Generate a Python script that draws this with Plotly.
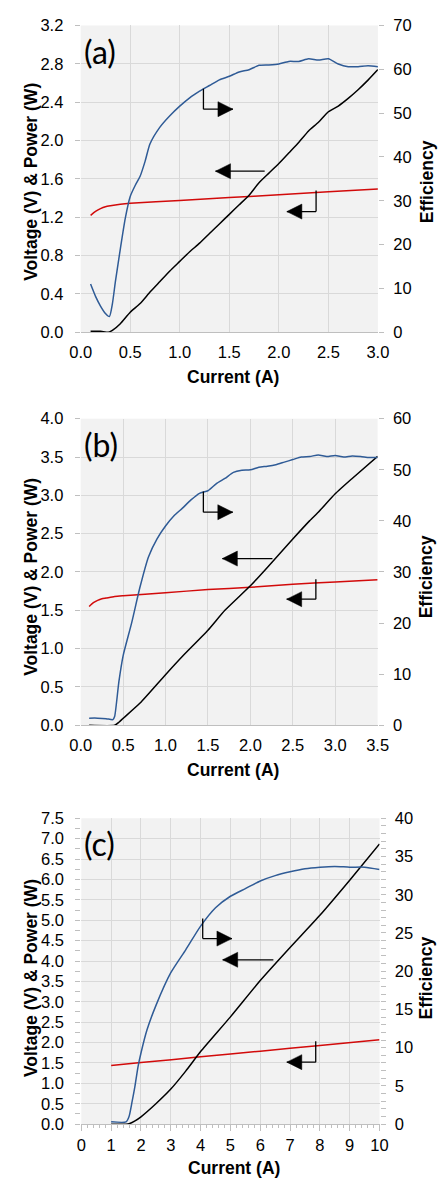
import plotly.graph_objects as go

# ---------------- data ----------------
# Panel (a)
a_v_current = [0.1, 0.15, 0.2, 0.25, 0.3, 0.4, 0.5, 1.0, 1.5, 2.0, 2.5, 3.0]
a_voltage = [1.22, 1.26, 1.29, 1.31, 1.32, 1.335, 1.345, 1.375, 1.405, 1.435, 1.465, 1.495]

a_p_current = [0.1, 0.2, 0.28, 0.32, 0.4, 0.5, 0.6, 0.7, 0.8, 0.9, 1.0, 1.1, 1.2, 1.3, 1.4, 1.5,
               1.6, 1.7, 1.8, 1.9, 2.0, 2.1, 2.2, 2.3, 2.4, 2.5, 2.6, 2.7, 2.8, 2.9, 3.0]
a_power = [0.01, 0.01, 0.0, 0.02, 0.09, 0.21, 0.30, 0.42, 0.53, 0.64, 0.74, 0.84, 0.93, 1.03, 1.13, 1.23,
           1.33, 1.43, 1.56, 1.66, 1.76, 1.87, 1.98, 2.10, 2.19, 2.30, 2.36, 2.44, 2.53, 2.63, 2.74]

a_e_current = [0.1, 0.15, 0.2, 0.25, 0.29, 0.32, 0.35, 0.4, 0.45, 0.5, 0.55, 0.6, 0.65, 0.7, 0.8, 0.9,
               1.0, 1.1, 1.2, 1.3, 1.4, 1.5, 1.6, 1.7, 1.8, 1.9, 2.0, 2.1, 2.2, 2.3, 2.4, 2.5,
               2.6, 2.7, 2.8, 2.9, 3.0]
a_eff = [11.0, 8.2, 6.0, 4.3, 3.6, 6.5, 11.5, 19.0, 26.0, 31.0, 33.5, 35.6, 39.0, 43.0, 46.8, 49.4,
         51.6, 53.5, 55.0, 56.3, 57.6, 58.4, 59.4, 59.9, 60.9, 61.0, 61.2, 61.8, 61.8, 62.4, 62.1, 62.4,
         61.2, 60.6, 60.6, 60.8, 60.6]

# Panel (b)
b_v_current = [0.1, 0.15, 0.2, 0.25, 0.3, 0.4, 0.5, 1.0, 1.5, 2.0, 2.5, 3.0, 3.5]
b_voltage = [1.55, 1.60, 1.63, 1.65, 1.66, 1.68, 1.69, 1.73, 1.77, 1.80, 1.84, 1.87, 1.90]

b_p_current = [0.1, 0.4, 0.45, 0.5, 0.7, 1.0, 1.2, 1.5, 1.7, 2.0, 2.2, 2.5, 2.7, 2.8, 3.0, 3.2, 3.5]
b_power = [0.0, 0.0, 0.04, 0.09, 0.29, 0.66, 0.90, 1.24, 1.50, 1.82, 2.06, 2.43, 2.67, 2.78, 3.02, 3.22, 3.51]

b_e_current = [0.1, 0.2, 0.3, 0.38, 0.4, 0.45, 0.5, 0.6, 0.7, 0.8, 0.9, 1.0, 1.1, 1.2, 1.3, 1.4, 1.5,
               1.6, 1.7, 1.8, 1.9, 2.0, 2.1, 2.2, 2.3, 2.4, 2.5, 2.6, 2.7, 2.8, 2.9, 3.0, 3.1, 3.2,
               3.3, 3.4, 3.5]
b_eff = [1.4, 1.4, 1.3, 1.1, 1.7, 8.5, 13.6, 20.0, 27.1, 33.0, 36.5, 39.0, 41.0, 42.5, 44.1, 45.4, 45.9,
         47.3, 48.3, 49.5, 49.9, 50.0, 50.5, 50.7, 51.0, 51.5, 52.0, 52.5, 52.6, 52.9, 52.6, 52.8, 52.5,
         52.7, 52.6, 52.4, 52.4]

# Panel (c)
c_v_current = [1, 2, 4, 6, 8, 10]
c_voltage = [1.44, 1.51, 1.65, 1.79, 1.93, 2.07]

c_p_current = [1, 1.5, 1.6, 1.8, 2, 2.5, 3, 3.5, 4, 5, 6, 7, 8, 9, 10]
c_power = [0.0, 0.0, 0.01, 0.08, 0.18, 0.50, 0.86, 1.30, 1.78, 2.63, 3.52, 4.33, 5.12, 5.98, 6.87]

c_e_current = [1, 1.5, 1.6, 1.7, 1.8, 1.9, 2, 2.2, 2.5, 3, 3.5, 4, 4.5, 5, 5.5, 6, 6.5, 7, 7.5,
               8, 8.5, 9, 9.5, 10]
c_eff = [0.3, 0.3, 1.0, 2.9, 5.0, 7.5, 9.3, 12.3, 15.5, 19.8, 22.8, 25.9, 28.3, 29.8, 30.8, 31.8,
         32.5, 33.0, 33.4, 33.6, 33.7, 33.6, 33.6, 33.3]

panel_labels = ["(a)", "(b)", "(c)"]
x_title = "Current (A)"
y_left_title = "Voltage (V) & Power (W)"
y_right_title = "Efficiency"

# ---------------- styling / layout ----------------
W, H = 445, 1188
BLUE = "#2f5b96"
RED = "#d20a0a"
GRID = "#d9d9d9"
AXC = "#bfbfbf"
FONT = "Liberation Sans, Arial, sans-serif"
TICK_SIZE = 16.5
TITLE_SIZE = 17.5


def fx(px):
    return px / W


def fy(py):
    return 1 - py / H


panels = [
    dict(xd=(73.3, 386.0), yd=(16.7, 328.3), xr=[0, 3], xdt=0.5, yr=[0, 3.2], ydt=0.4, rr=[0, 70], rdt=10,
         xfmt=".1f", minor=False),
    dict(xd=(73.3, 385.7), yd=(416.0, 727.3), xr=[0, 3.5], xdt=0.5, yr=[0, 4.0], ydt=0.5, rr=[0, 60], rdt=10,
         xfmt=".1f", minor=False),
    dict(xd=(74.0, 387.7), yd=(821.7, 1132.3), xr=[0, 10], xdt=1, yr=[0, 7.5], ydt=0.5, rr=[0, 40], rdt=5,
         xfmt="d", minor=True),
]

series = [
    (a_v_current, a_voltage, a_p_current, a_power, a_e_current, a_eff),
    (b_v_current, b_voltage, b_p_current, b_power, b_e_current, b_eff),
    (c_v_current, c_voltage, c_p_current, c_power, c_e_current, c_eff),
]

fig = go.Figure()
layout = dict(
    width=W, height=H, margin=dict(l=0, r=0, t=0, b=0),
    paper_bgcolor="white", plot_bgcolor="#f2f2f2", showlegend=False,
    font=dict(family=FONT, size=TICK_SIZE, color="#000000"),
)
annotations = []
shapes = []

for i, (p, s) in enumerate(zip(panels, series)):
    xn = "x" if i == 0 else f"x{i+1}"
    yl = "y" if i == 0 else f"y{2*i+1}"
    yr_ = f"y{2*i+2}"
    xkey = "xaxis" if i == 0 else f"xaxis{i+1}"
    ylkey = "yaxis" if i == 0 else f"yaxis{2*i+1}"
    yrkey = f"yaxis{2*i+2}"

    vx, vy, px_, py_, ex, ey = s
    fig.add_trace(go.Scatter(x=vx, y=vy, xaxis=xn, yaxis=yl, mode="lines",
                             line=dict(color=RED, width=1.5, shape="spline", smoothing=0.6)))
    fig.add_trace(go.Scatter(x=px_, y=py_, xaxis=xn, yaxis=yl, mode="lines",
                             line=dict(color="black", width=1.5, shape="spline", smoothing=0.5)))
    fig.add_trace(go.Scatter(x=ex, y=ey, xaxis=xn, yaxis=yr_, mode="lines",
                             line=dict(color=BLUE, width=1.5, shape="spline", smoothing=0.6)))

    xax = dict(domain=[fx(p["xd"][0]), fx(p["xd"][1])], anchor=yl, range=p["xr"], dtick=p["xdt"],
               tick0=0, tickformat=p["xfmt"], showgrid=True, gridcolor=GRID, gridwidth=1,
               zeroline=False, showline=True, linecolor=AXC, linewidth=1,
               ticks="outside" if p["minor"] else "", ticklen=6, tickcolor=AXC,
               ticklabelstandoff=0 if p["minor"] else 5, tickfont=dict(size=TICK_SIZE))
    if p["minor"]:
        xax["minor"] = dict(dtick=0.2, tick0=0, ticks="outside", ticklen=3, tickcolor=AXC, showgrid=False)
    yax = dict(domain=[fy(p["yd"][1]), fy(p["yd"][0])], anchor=xn, range=p["yr"], dtick=p["ydt"], tick0=0,
               tickformat=".1f", showgrid=True, gridcolor=GRID, gridwidth=1, zeroline=False,
               showline=False, ticks="outside", ticklen=5, tickcolor=AXC, ticklabelstandoff=8,
               tickfont=dict(size=TICK_SIZE))
    if p["minor"]:
        yax["minor"] = dict(dtick=0.25, tick0=0, ticks="outside", ticklen=5, tickcolor=AXC, showgrid=False)
    yrax = dict(overlaying=yl, side="right", anchor=xn, range=p["rr"], dtick=p["rdt"], tick0=0,
                showgrid=False, zeroline=False, showline=False, ticks="outside", ticklen=5,
                tickcolor=AXC, ticklabelstandoff=6, tickfont=dict(size=TICK_SIZE))
    if p["minor"]:
        yrax["minor"] = dict(dtick=1, tick0=0, ticks="outside", ticklen=5, tickcolor=AXC, showgrid=False)
    layout[xkey] = xax
    layout[ylkey] = yax
    layout[yrkey] = yrax

    # titles
    xc = (p["xd"][0] + p["xd"][1]) / 2
    annotations.append(dict(text=f"<b>{x_title}</b>", xref="paper", yref="paper",
                            x=fx(xc + 4), y=fy(p["yd"][1] + 45), xanchor="center", yanchor="middle",
                            showarrow=False, font=dict(size=TITLE_SIZE, family=FONT)))
    yc = (p["yd"][0] + p["yd"][1]) / 2 + 3 + 2 * i
    annotations.append(dict(text=f"<b>{y_left_title}</b>", xref="paper", yref="paper", x=fx(21),
                            y=fy(yc), xanchor="center", yanchor="middle", textangle=-90,
                            showarrow=False, font=dict(size=TITLE_SIZE, family=FONT)))
    annotations.append(dict(text=f"<b>{y_right_title}</b>", xref="paper", yref="paper", x=fx(437),
                            y=fy(yc), xanchor="center", yanchor="middle", textangle=-90,
                            showarrow=False, font=dict(size=TITLE_SIZE, family=FONT)))
    annotations.append(dict(text=panel_labels[i], xref="paper", yref="paper", x=fx(75),
                            y=fy(p["yd"][0] + 26), xanchor="left", yanchor="middle",
                            showarrow=False, font=dict(size=32, family="Lato, Carlito, sans-serif",
                                                       color="black")))

# ---- annotation arrows (bent / straight) in axis coordinates ----
# (xref, yref, kind, x_vertical, y_top, y_bottom, x_tip)
arrow_defs = [
    ("x", "y", "bent", 1.239, 2.54, 2.327, 1.537),
    ("x", "y", "straight", 1.857, 1.68, 1.68, 1.361),
    ("x", "y", "bent", 2.376, 1.478, 1.259, 2.081),
    ("x2", "y3", "bent", 1.446, 3.05, 2.78, 1.793),
    ("x2", "y3", "straight", 2.26, 2.175, 2.175, 1.67),
    ("x2", "y3", "bent", 2.772, 1.906, 1.645, 2.428),
    ("x3", "y5", "bent", 4.07, 5.04, 4.55, 5.05),
    ("x3", "y5", "straight", 6.44, 4.03, 4.03, 4.74),
    ("x3", "y5", "bent", 7.86, 2.03, 1.52, 6.89),
]
for xr, yr, kind, xv, yt, yb, xt in arrow_defs:
    line = dict(color="black", width=1.3)
    if kind == "bent":
        shapes.append(dict(type="line", xref=xr, yref=yr, x0=xv, x1=xv, y0=yt, y1=yb, line=line))
        shapes.append(dict(type="line", xref=xr, yref=yr, x0=xv, x1=xt, y0=yb, y1=yb, line=line))
        ya = yb
    else:
        shapes.append(dict(type="line", xref=xr, yref=yr, x0=xv, x1=xt, y0=yt, y1=yt, line=line))
        ya = yt
    d = 1 if xt > xv else -1
    path = f"M0,0 L{-15*d},7.5 L{-15*d},-7.5 Z"
    shapes.append(dict(type="path", xref=xr, yref=yr, xsizemode="pixel", ysizemode="pixel",
                       xanchor=xt, yanchor=ya, path=path, fillcolor="black",
                       line=dict(color="black", width=0.5)))

layout["annotations"] = annotations
layout["shapes"] = shapes
fig.update_layout(**layout)
fig.write_html("out.html")
